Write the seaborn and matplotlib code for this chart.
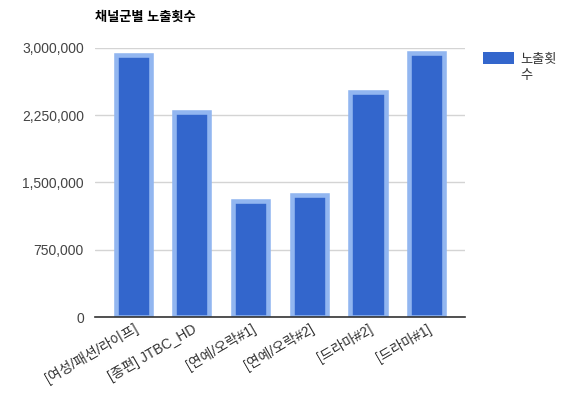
import matplotlib
matplotlib.use("Agg")
import matplotlib.pyplot as plt
from matplotlib.patches import Patch
from matplotlib.ticker import FuncFormatter
import seaborn as sns
import pandas as pd

# Channel groups and their impression counts
channels = ["[여성/패션/라이프]", "[종편] JTBC_HD", "[연예/오락#1]", "[연예/오락#2]", "[드라마#2]", "[드라마#1]"]
impressions = [2915000, 2282000, 1294000, 1356000, 2510000, 2940000]
y_ticks = [0, 750000, 1500000, 2250000, 3000000]
title = "채널군별 노출횟수"
series_name = "노출횟수"

sns.set_theme(style="white")
plt.rcParams["font.family"] = ["Liberation Sans", "Noto Sans CJK KR", "DejaVu Sans"]

df = pd.DataFrame({"channel": channels, "impressions": impressions})

fig = plt.figure(figsize=(5.79, 3.97), dpi=100)
ax = fig.add_axes([0.164, 0.2015, 0.639, 0.678])

fill = "#3366cc"
edge = "#92b6f0"
sns.barplot(data=df, x="channel", y="impressions", color=fill, saturation=1,
            edgecolor=edge, linewidth=3.3, width=0.6, ax=ax, zorder=2)

ax.set_ylim(0, 3000000)
ax.set_xlim(-0.65, len(channels) - 0.35)
ax.set_yticks(y_ticks)
ax.yaxis.set_major_formatter(FuncFormatter(lambda v, p: f"{int(v):,}"))
ax.grid(axis="y", color="#d4d4d4", linewidth=1, zorder=0)
ax.set_axisbelow(True)
for s in ["top", "right", "left"]:
    ax.spines[s].set_visible(False)
ax.spines["bottom"].set_color("#333333")
ax.spines["bottom"].set_linewidth(1.2)
ax.spines["bottom"].set_zorder(3)

ax.set_xlabel("")
ax.set_ylabel("")
ax.tick_params(axis="y", length=0, pad=8, labelsize=10, labelcolor="#444444")
ax.tick_params(axis="x", length=0, pad=3, labelsize=10, labelcolor="#333333")
for lbl in ax.get_xticklabels():
    lbl.set_rotation(30)
    lbl.set_ha("right")
    lbl.set_rotation_mode("anchor")

fig.text(0.164, 0.955, title, fontsize=9.5, fontweight="bold", color="#000000",
         ha="left", va="center")

# Legend: the series name wraps onto a second line under the swatch text
leg = ax.legend(handles=[Patch(facecolor=fill, edgecolor="none")],
                labels=[series_name[:3]], loc="upper left",
                bbox_to_anchor=(1.035, 1.005), frameon=False, fontsize=9.5,
                handlelength=2.3, handleheight=1.1, handletextpad=0.5,
                borderaxespad=0)
fig.canvas.draw()
txt = leg.get_texts()[0]
txt.set_color("#333333")
bb = txt.get_window_extent().transformed(fig.transFigure.inverted())
fig.text(bb.x0, bb.y0 - 0.012, series_name[3:], fontsize=9.5, color="#333333",
         ha="left", va="top")

fig.savefig("out.png", dpi=100, facecolor="white")
